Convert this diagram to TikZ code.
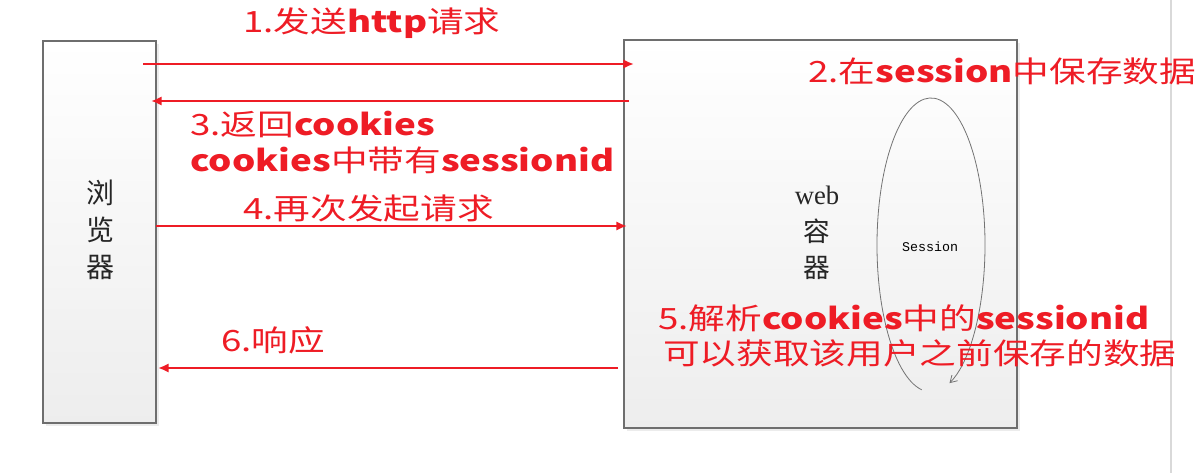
\documentclass[tikz,border=0pt]{standalone}
\usepackage{fontspec}
\usepackage{graphicx}
\newfontfamily\cjk{Noto Sans CJK SC}
\newfontfamily\lib{Liberation Serif}
\newfontfamily\mono{Liberation Mono}
\usetikzlibrary{arrows.meta,shadows,shapes.geometric}
\definecolor{rd}{HTML}{EE1C25}
\definecolor{bx}{HTML}{6E6E6E}
\newcommand{\rl}[1]{\scalebox{1.25}[1]{#1}}
\newcommand{\ltn}[1]{{\bfseries #1}}
\begin{document}
\begin{tikzpicture}[x=0.75pt,y=-0.75pt,
  box/.style={draw=bx,line width=0.9pt,top color=white,bottom color=black!7,
    drop shadow={shadow xshift=2pt,shadow yshift=-2pt,fill=black!12,opacity=0.6},inner sep=0pt},
  lbl/.style={text=rd,font=\cjk\fontsize{22}{26}\selectfont,inner sep=0pt,anchor=west},
  blk/.style={text=black!85,font=\cjk\fontsize{21}{28}\selectfont,inner sep=0pt,align=center},
  msg/.style={draw=rd,line width=2.2pt,-{Latex[length=8pt,width=7pt]}}]
\useasboundingbox (0,0) rectangle (1200,473);
\draw[black!15,line width=0.8pt] (1171,0) -- (1171,473);
% boxes
\node[box,minimum width=84.75pt,minimum height=286.5pt] (browser) at (99.5,232) {};
\node[box,minimum width=294.75pt,minimum height=291pt] (web) at (820.5,234) {};
\node[blk] (btext) at (100,230) {浏\\览\\器};
\node[blk,font=\cjk\fontsize{20}{27.5}\selectfont] (wtext) at (817,233) {{\lib web}\\容\\器};
% session
\node[ellipse,minimum width=81pt,minimum height=220pt,inner sep=0pt] (session) at (931,245) {};
\node[font=\mono\fontsize{10}{12}\selectfont,inner sep=0pt] (stext) at (930,247) {Session};
\draw[black!55,line width=0.6pt,-{Straight Barb[length=5pt,width=6pt]}]
  (session.center) ++(100:54 and 147) arc[start angle=100,end angle=430,x radius=54,y radius=147];
% arrow endpoints
\coordinate (a1s) at (143,64);  \coordinate (a1e) at (634,64);
\coordinate (a3s) at (629,101); \coordinate (a3e) at (151,101);
\coordinate (a4s) at (156,226); \coordinate (a4e) at (627,226);
\coordinate (a6s) at (618,368); \coordinate (a6e) at (158,368);
\draw[msg] (a1s) -- (a1e);
\draw[msg] (a3s) -- (a3e);
\draw[msg] (a4s) -- (a4e);
\draw[msg] (a6s) -- (a6e);
% labels
\node[lbl] (l1) at (243,23) {\rl{1.发送\ltn{http}请求}};
\node[lbl] (l2) at (808,71) {\rl{2.在\ltn{session}中保存数据}};
\node[lbl] (l3a) at (190,124) {\rl{3.返回\ltn{cookies}}};
\node[lbl] (l3b) at (190,160) {\rl{\ltn{cookies}中带有\ltn{sessionid}}};
\node[lbl] (l4) at (243,208) {\rl{4.再次发起请求}};
\node[lbl] (l5a) at (658,318) {\rl{5.解析\ltn{cookies}中的\ltn{sessionid}}};
\node[lbl] (l5b) at (663,353) {\rl{可以获取该用户之前保存的数据}};
\node[lbl] (l6) at (221,340) {\rl{6.响应}};
\end{tikzpicture}
\end{document}
